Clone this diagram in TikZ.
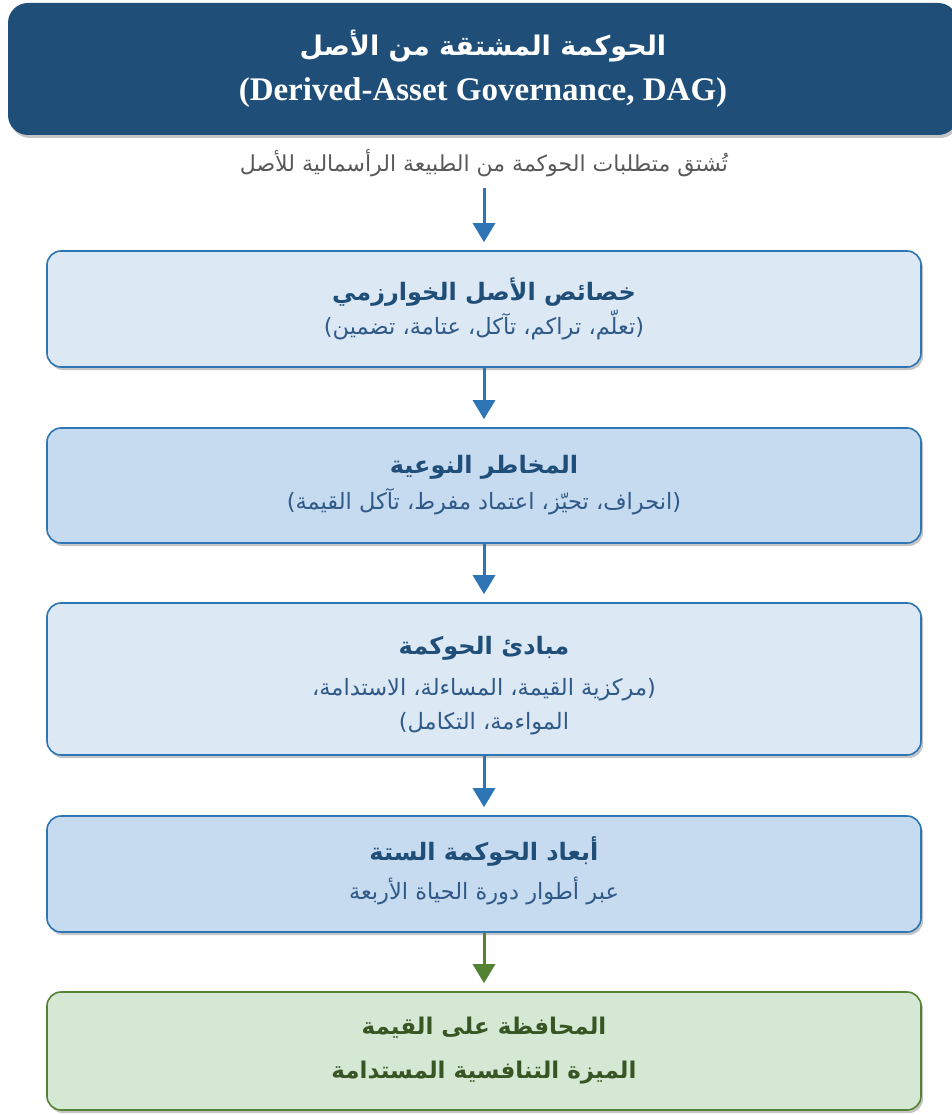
\documentclass[tikz,border=0pt]{standalone}
\usepackage{fontspec}
\setmainfont{Liberation Serif}
\newfontfamily\arabicfont[Script=Arabic]{DejaVu Sans}
\TeXXeTstate=1
\usetikzlibrary{arrows.meta,shadows}
\definecolor{titleblue}{HTML}{1F4E79}
\definecolor{edgeblue}{HTML}{2E75B6}
\definecolor{lightA}{HTML}{DDE8F5}
\definecolor{lightB}{HTML}{C6DAF0}
\definecolor{headblue}{HTML}{1F4E79}
\definecolor{subblue}{HTML}{2F5A88}
\definecolor{greenfill}{HTML}{D5E8D4}
\definecolor{greenedge}{HTML}{548235}
\definecolor{greentext}{HTML}{375623}
\definecolor{greytext}{HTML}{595959}
\tikzset{
  boxshadow/.style={drop shadow={shadow xshift=2pt,shadow yshift=-3pt,fill=black!45,opacity=0.5}},
  stagetext/.style={align=center,text=headblue,font=\arabicfont\fontsize{22.5}{36}\selectfont},
  stagebox/.style={draw=edgeblue,line width=1.6pt,rounded corners=14pt,minimum width=874pt,boxshadow,stagetext},
  greenbox/.style={draw=greenedge,fill=greenfill,line width=1.6pt,rounded corners=14pt,minimum width=874pt,align=center,text=greentext,boxshadow,font=\arabicfont\fontsize{23}{44}\selectfont},
  titlebox/.style={fill=titleblue,rounded corners=20pt,minimum width=950pt,minimum height=132pt,align=center,text=white,boxshadow,font=\fontsize{27}{45}\selectfont},
  flowarrow/.style={draw=edgeblue,line width=3pt,-{Triangle[width=22pt,length=19pt]},shorten >=8pt},
  greenarrow/.style={draw=greenedge,line width=3pt,-{Triangle[width=22pt,length=19pt]},shorten >=8pt},
}
\newcommand{\subline}[1]{{\arabicfont\fontsize{22.5}{36}\selectfont\color{subblue}\beginR #1\endR}}
\newcommand{\headline}[1]{{\arabicfont\bfseries\fontsize{24}{36}\selectfont\beginR #1\endR}}
\newcommand{\greenline}[1]{{\arabicfont\bfseries\fontsize{23}{44}\selectfont\beginR #1\endR}}
\begin{document}
\begin{tikzpicture}[x=1pt,y=-1pt]
\useasboundingbox (0,0) rectangle (951,1115);

\node[titlebox] (title) at (483,69) {{\arabicfont\bfseries\fontsize{27}{45}\selectfont\beginR الحوكمة المشتقة من الأصل\endR}\\
{\bfseries\fontsize{33}{45}\selectfont (Derived-Asset Governance, DAG)}};

\node[text=greytext] (intro) at (484,163) {\arabicfont\fontsize{22}{26}\selectfont\beginR تُشتق متطلبات الحوكمة من الطبيعة الرأسمالية للأصل\endR};

\node[stagebox,fill=lightA,minimum height=116pt] (b1) at (484,309)
 {\headline{خصائص الأصل الخوارزمي}\\[-2pt]\subline{(تعلّم، تراكم، تآكل، عتامة، تضمين)}};

\node[stagebox,fill=lightB,minimum height=115pt] (b2) at (484,485.5)
 {\headline{المخاطر النوعية}\\\subline{(انحراف، تحيّز، اعتماد مفرط، تآكل القيمة)}};

\node[stagebox,fill=lightA,minimum height=152pt] (b3) at (484,679) {};
\node[stagetext] (b3text) at (484,685.5)
 {\headline{مبادئ الحوكمة}\\[5pt]\subline{(مركزية القيمة، المساءلة، الاستدامة،}\\[-2pt]\subline{المواءمة، التكامل)}};

\node[stagebox,fill=lightB,minimum height=116pt] (b4) at (484,874) {};
\node[stagetext] (b4text) at (484,870.5)
 {\headline{أبعاد الحوكمة الستة}\\[3pt]\subline{عبر أطوار دورة الحياة الأربعة}};

\node[greenbox,minimum height=118pt] (b5) at (484,1051)
 {\greenline{المحافظة على القيمة}\\\greenline{الميزة التنافسية المستدامة}};

\draw[flowarrow,shorten <=8pt] (intro.south) -- (b1.north);
\draw[flowarrow] (b1.south) -- (b2.north);
\draw[flowarrow] (b2.south) -- (b3.north);
\draw[flowarrow] (b3.south) -- (b4.north);
\draw[greenarrow] (b4.south) -- (b5.north);
\end{tikzpicture}
\end{document}
